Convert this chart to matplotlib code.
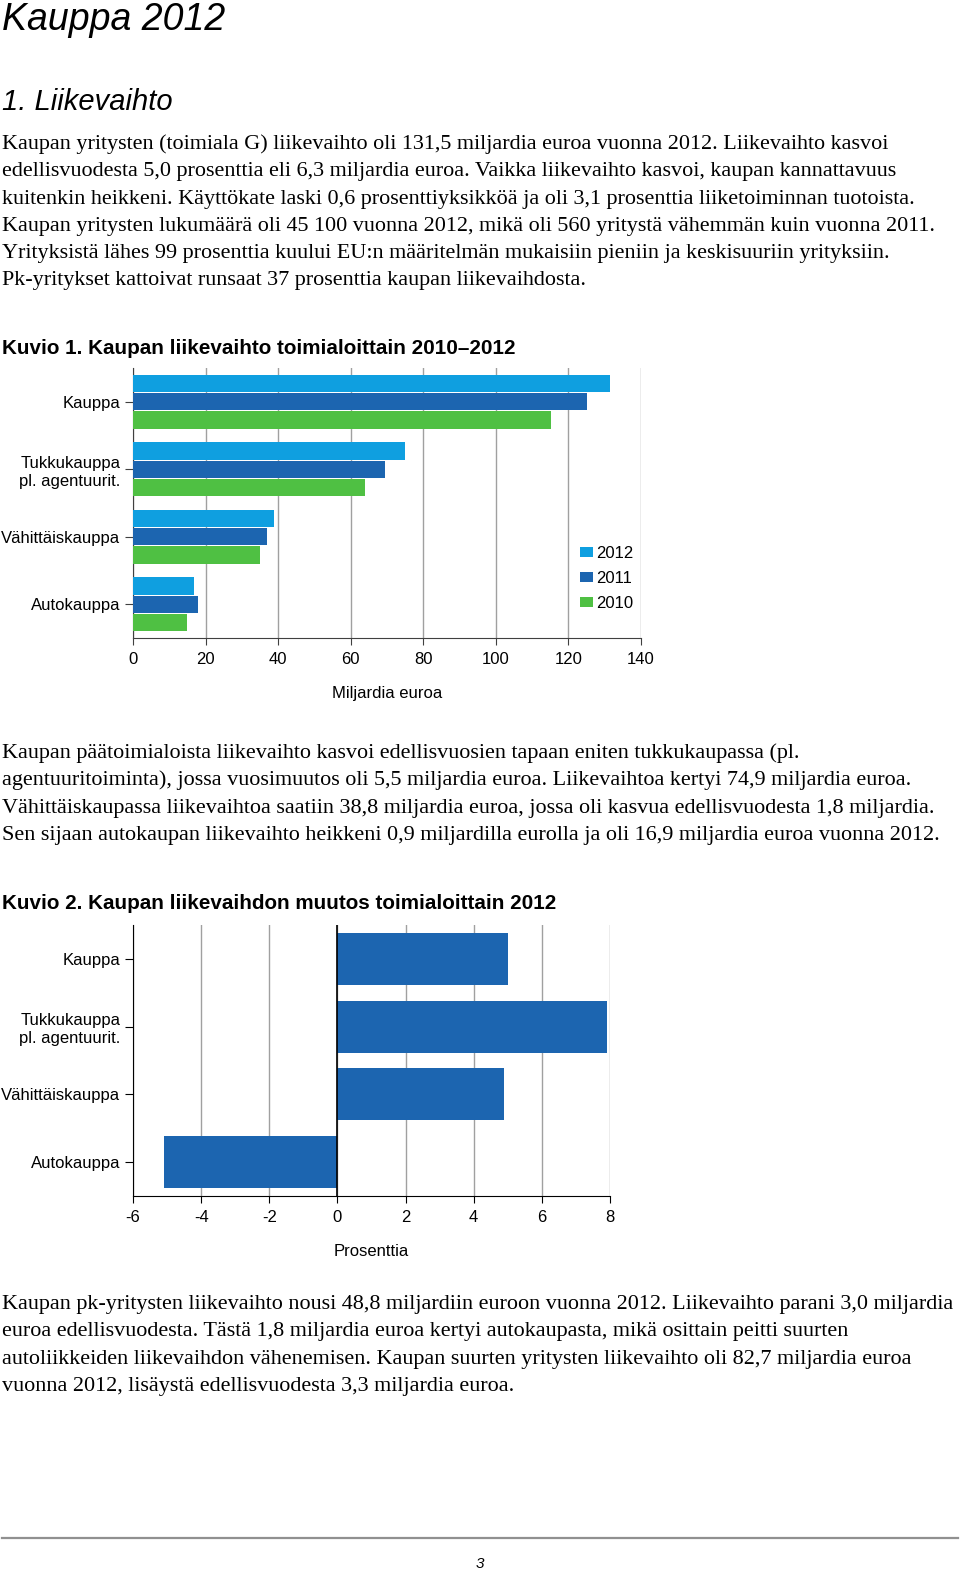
import matplotlib
matplotlib.use('Agg')
import matplotlib.pyplot as plt
import numpy as np

# chart 1: liikevaihto toimialoittain, mrd euroa
categories = ['Kauppa', 'Tukkukauppa\npl. agentuurit.', 'Vähittäiskauppa', 'Autokauppa']
years = ['2012', '2011', '2010']
val2012 = [131.5, 74.9, 38.8, 16.9]
val2011 = [125.2, 69.4, 37.0, 17.8]
val2010 = [115.2, 63.9, 34.9, 15.0]
x1_ticks = [0, 20, 40, 60, 80, 100, 120, 140]

# chart 2: muutos 2012, prosenttia
change2012 = [5.0, 7.9, 4.9, -5.1]
x2_ticks = [-6, -4, -2, 0, 2, 4, 6, 8]

para1 = [
    "Kaupan yritysten (toimiala G) liikevaihto oli 131,5 miljardia euroa vuonna 2012. Liikevaihto kasvoi",
    "edellisvuodesta 5,0 prosenttia eli 6,3 miljardia euroa. Vaikka liikevaihto kasvoi, kaupan kannattavuus",
    "kuitenkin heikkeni. Käyttökate laski 0,6 prosenttiyksikköä ja oli 3,1 prosenttia liiketoiminnan tuotoista.",
    "Kaupan yritysten lukumäärä oli 45 100 vuonna 2012, mikä oli 560 yritystä vähemmän kuin vuonna 2011.",
    "Yrityksistä lähes 99 prosenttia kuului EU:n määritelmän mukaisiin pieniin ja keskisuuriin yrityksiin.",
    "Pk-yritykset kattoivat runsaat 37 prosenttia kaupan liikevaihdosta.",
]
para2 = [
    "Kaupan päätoimialoista liikevaihto kasvoi edellisvuosien tapaan eniten tukkukaupassa (pl.",
    "agentuuritoiminta), jossa vuosimuutos oli 5,5 miljardia euroa. Liikevaihtoa kertyi 74,9 miljardia euroa.",
    "Vähittäiskaupassa liikevaihtoa saatiin 38,8 miljardia euroa, jossa oli kasvua edellisvuodesta 1,8 miljardia.",
    "Sen sijaan autokaupan liikevaihto heikkeni 0,9 miljardilla eurolla ja oli 16,9 miljardia euroa vuonna 2012.",
]
para3 = [
    "Kaupan pk-yritysten liikevaihto nousi 48,8 miljardiin euroon vuonna 2012. Liikevaihto parani 3,0 miljardia",
    "euroa edellisvuodesta. Tästä 1,8 miljardia euroa kertyi autokaupasta, mikä osittain peitti suurten",
    "autoliikkeiden liikevaihdon vähenemisen. Kaupan suurten yritysten liikevaihto oli 82,7 miljardia euroa",
    "vuonna 2012, lisäystä edellisvuodesta 3,3 miljardia euroa.",
]

W, H = 960, 1572
c2012 = '#0f9fe0'
c2011 = '#1c65b0'
c2010 = '#4fc043'
grid_c = '#a0a0a0'
chartfont = 'Liberation Sans'
fs = 12

fig = plt.figure(figsize=(W / 100, H / 100), dpi=100)

def fy(py):
    return 1 - py / H

def fx(px):
    return px / W

def body(lines, y0, step=27.3):
    for i, s in enumerate(lines):
        fig.text(fx(2), fy(y0 + i * step), s, family='Liberation Serif', fontsize=15.9,
                 va='baseline', ha='left')

fig.text(fx(2), fy(30), 'Kauppa 2012', family='Liberation Sans', style='italic',
         fontsize=27, va='baseline')
fig.text(fx(2), fy(110), '1. Liikevaihto', family='Liberation Sans', style='italic',
         fontsize=21, va='baseline')
body(para1, 149)
fig.text(fx(2), fy(354), 'Kuvio 1. Kaupan liikevaihto toimialoittain 2010–2012',
         family='Liberation Sans', weight='bold', fontsize=14.9, va='baseline')
body(para2, 758)
fig.text(fx(2), fy(909), 'Kuvio 2. Kaupan liikevaihdon muutos toimialoittain 2012',
         family='Liberation Sans', weight='bold', fontsize=14.9, va='baseline')
body(para3, 1309)

# footer
fig.add_artist(plt.Line2D([fx(2), fx(958)], [fy(1538), fy(1538)], color='#909090', lw=1.6))
fig.text(0.5, fy(1568), '3', family=chartfont, style='italic', fontsize=11, ha='center', va='baseline')

# ---- chart 1
ax1 = fig.add_axes([fx(133), fy(638), fx(641) - fx(133), (638 - 368) / H])
ypos = np.arange(len(categories))
h = 0.255
off = 0.27
ax1.barh(ypos - off, val2012, height=h, color=c2012, label=years[0], zorder=3)
ax1.barh(ypos, val2011, height=h, color=c2011, label=years[1], zorder=3)
ax1.barh(ypos + off, val2010, height=h, color=c2010, label=years[2], zorder=3)
ax1.set_ylim(3.5, -0.5)
ax1.set_xlim(0, 140)
ax1.set_xticks(x1_ticks)
ax1.set_xticklabels([str(v) for v in x1_ticks], family=chartfont, fontsize=fs)
ax1.set_yticks(ypos)
ax1.set_yticklabels(categories, family=chartfont, fontsize=fs, linespacing=1.25)
ax1.set_xlabel('Miljardia euroa', family=chartfont, fontsize=fs, labelpad=14)
ax1.grid(axis='x', color=grid_c, lw=1, zorder=0)
ax1.spines['top'].set_visible(False)
ax1.spines['right'].set_visible(False)
ax1.spines['left'].set_color('#404040')
ax1.spines['bottom'].set_color('#404040')
ax1.tick_params(axis='y', length=6, color='#404040', pad=3)
ax1.tick_params(axis='x', length=5, color='#404040', pad=5)
leg = ax1.legend(loc='center left', bbox_to_anchor=(0.85, 0.22), frameon=False,
                 handlelength=0.8, handleheight=0.5, handletextpad=0.2, labelspacing=0.6,
                 prop={'family': chartfont, 'size': 12})

# ---- chart 2
ax2 = fig.add_axes([fx(133), fy(1196), fx(610) - fx(133), (1196 - 925) / H])
ax2.barh(ypos, change2012, height=0.77, color=c2011, zorder=3)
ax2.set_ylim(3.5, -0.5)
ax2.set_xlim(-6, 8)
ax2.set_xticks(x2_ticks)
ax2.set_xticklabels([str(v) for v in x2_ticks], family=chartfont, fontsize=fs)
ax2.set_yticks(ypos)
ax2.set_yticklabels(categories, family=chartfont, fontsize=fs, linespacing=1.25)
ax2.set_xlabel('Prosenttia', family=chartfont, fontsize=fs, labelpad=14)
ax2.grid(axis='x', color=grid_c, lw=1, zorder=0)
ax2.axvline(0, color='black', lw=1.2, zorder=4)
ax2.spines['top'].set_visible(False)
ax2.spines['right'].set_visible(False)
ax2.tick_params(axis='y', length=6, pad=3)
ax2.tick_params(axis='x', length=5, pad=5)

fig.savefig('out.png', dpi=100)
